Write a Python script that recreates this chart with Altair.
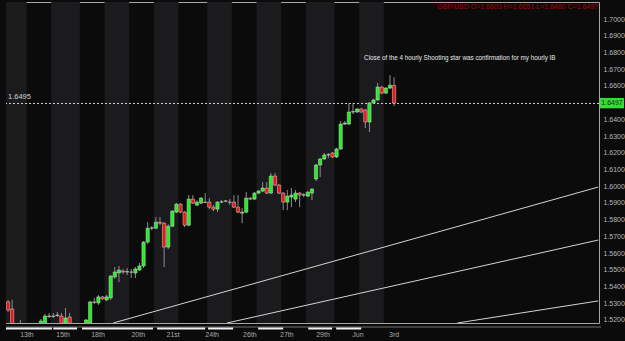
import altair as alt
import pandas as pd

# ---------------- data (4-hour GBP/USD candles, index = candle number) ----------------
idx = [0, 1, 3, 8, 9, 10, 11, 12, 13, 14, 15,
       19, 20, 21, 22, 23, 24, 25, 26, 27, 28, 29, 30, 31, 32, 33, 34, 35, 36, 37, 38,
       39, 40, 41, 42, 43, 44, 45, 46, 47, 48, 49, 50, 51, 52, 53, 54, 55, 56, 57, 58,
       59, 60, 61, 62, 63, 64, 65, 66, 67, 68, 69, 70, 71, 72, 73, 74, 75, 76, 77, 78,
       79, 80, 81, 82, 83, 84, 85, 86, 87, 88, 89, 90, 91, 92, 93, 94]
opens = [1.5308, 1.5266, 1.5170, 1.5176, 1.5176, 1.5221, 1.5224, 1.5227, 1.5224, 1.5180, 1.5218,
         1.5176, 1.5180, 1.5308, 1.5302, 1.5338, 1.5320, 1.5332, 1.5457, 1.5481, 1.5493, 1.5487, 1.5487, 1.5481, 1.5499, 1.5523, 1.5666, 1.5749, 1.5749, 1.5785, 1.5779,
         1.5636, 1.5761, 1.5845, 1.5893, 1.5845, 1.5767, 1.5923, 1.5887, 1.5899, 1.5905, 1.5905, 1.5875, 1.5863, 1.5905, 1.5911, 1.5905, 1.5905, 1.5875, 1.5839, 1.5845,
         1.5929, 1.5923, 1.5959, 1.5971, 1.5989, 1.5959, 1.6061, 1.6007, 1.5959, 1.5905, 1.5935, 1.5923, 1.5959, 1.5947, 1.5941, 1.5959, 1.6043, 1.6127, 1.6163, 1.6187,
         1.6199, 1.6175, 1.6223, 1.6372, 1.6372, 1.6444, 1.6444, 1.6462, 1.6456, 1.6384, 1.6498, 1.6516, 1.6593, 1.6557, 1.6587, 1.6603]
highs = [1.5320, 1.5320, 1.5200, 1.5206, 1.5236, 1.5242, 1.5242, 1.5248, 1.5242, 1.5272, 1.5242,
         1.5206, 1.5314, 1.5332, 1.5350, 1.5344, 1.5350, 1.5469, 1.5517, 1.5523, 1.5505, 1.5511, 1.5505, 1.5517, 1.5541, 1.5672, 1.5785, 1.5761, 1.5815, 1.5815, 1.5785,
         1.5773, 1.5857, 1.5899, 1.5899, 1.5851, 1.5947, 1.5947, 1.5917, 1.5935, 1.5959, 1.5929, 1.5887, 1.5911, 1.5917, 1.5917, 1.5923, 1.5947, 1.5947, 1.5869, 1.5965,
         1.5935, 1.5965, 1.5977, 1.6025, 1.6025, 1.6079, 1.6079, 1.6013, 1.5965, 1.5977, 1.5989, 1.5977, 1.5965, 1.5959, 1.5971, 1.5989, 1.6133, 1.6169, 1.6199, 1.6199,
         1.6205, 1.6229, 1.6390, 1.6390, 1.6498, 1.6498, 1.6468, 1.6468, 1.6462, 1.6504, 1.6522, 1.6617, 1.6599, 1.6593, 1.6665, 1.6651]
lows = [1.5248, 1.5140, 1.5122, 1.5164, 1.5164, 1.5212, 1.5212, 1.5218, 1.5170, 1.5170, 1.5170,
        1.5170, 1.5176, 1.5296, 1.5290, 1.5320, 1.5314, 1.5320, 1.5445, 1.5427, 1.5475, 1.5469, 1.5451, 1.5451, 1.5493, 1.5511, 1.5654, 1.5737, 1.5743, 1.5767, 1.5517,
        1.5624, 1.5755, 1.5839, 1.5839, 1.5755, 1.5761, 1.5893, 1.5881, 1.5893, 1.5899, 1.5863, 1.5851, 1.5845, 1.5899, 1.5905, 1.5887, 1.5869, 1.5839, 1.5779, 1.5839,
        1.5917, 1.5917, 1.5953, 1.5965, 1.5953, 1.5953, 1.6001, 1.5953, 1.5857, 1.5857, 1.5875, 1.5905, 1.5875, 1.5935, 1.5935, 1.5917, 1.6031, 1.6055, 1.6157, 1.6169,
        1.6169, 1.6169, 1.6217, 1.6366, 1.6366, 1.6432, 1.6438, 1.6438, 1.6348, 1.6324, 1.6492, 1.6510, 1.6551, 1.6551, 1.6581, 1.6480]
closes = [1.5260, 1.5164, 1.5152, 1.5194, 1.5224, 1.5224, 1.5221, 1.5230, 1.5180, 1.5212, 1.5180,
          1.5200, 1.5308, 1.5305, 1.5338, 1.5326, 1.5338, 1.5463, 1.5487, 1.5499, 1.5487, 1.5489, 1.5486, 1.5505, 1.5523, 1.5666, 1.5749, 1.5751, 1.5785, 1.5779, 1.5636,
          1.5761, 1.5851, 1.5893, 1.5845, 1.5767, 1.5923, 1.5899, 1.5905, 1.5929, 1.5903, 1.5875, 1.5863, 1.5905, 1.5907, 1.5912, 1.5904, 1.5875, 1.5845, 1.5845, 1.5929,
          1.5923, 1.5959, 1.5971, 1.5989, 1.5959, 1.6061, 1.6007, 1.5959, 1.5905, 1.5941, 1.5947, 1.5959, 1.5947, 1.5949, 1.5965, 1.5983, 1.6127, 1.6163, 1.6187, 1.6189,
          1.6175, 1.6223, 1.6372, 1.6378, 1.6444, 1.6446, 1.6462, 1.6444, 1.6384, 1.6498, 1.6516, 1.6593, 1.6557, 1.6587, 1.6605, 1.6497]

# lighter day bands (candle-index ranges)
band_start = [-0.5, 10.5, 23.5, 35.5, 48.5, 60.5, 72.5, 85.5]
band_end = [4.5, 17.5, 29.5, 41.5, 54.5, 66.5, 79.5, 91.5]

# date strip segments under the chart
strip_start = [-0.5, 11.0, 18.0, 36.3, 48.7, 60.9, 73.1, 79.9]
strip_end = [10.7, 16.8, 35.3, 48.0, 54.8, 67.0, 78.9, 86.0]

# x-axis labels
date_labels = ["13th", "15th", "18th", "20th", "21st", "24th", "26th", "27th", "29th", "Jun", "3rd"]
date_pos = [4.6, 13.4, 21.9, 31.7, 40.2, 49.7, 58.9, 67.9, 76.7, 85.2, 94.0]

# y-axis tick values (1.6500 is hidden behind the last-price box in the reference)
y_ticks = [1.52, 1.53, 1.54, 1.55, 1.56, 1.57, 1.58, 1.59, 1.60, 1.61,
           1.62, 1.63, 1.64, 1.66, 1.67, 1.68, 1.69, 1.70]

# trend lines (two points each)
tl_id = ["a", "a", "b", "b", "c", "c"]
tl_i = [25.6, 143.7, 53.3, 143.7, 109.4, 143.7]
tl_p = [1.5182, 1.5995, 1.5182, 1.5678, 1.5182, 1.5314]

level_price = 1.6495
last_price = 1.6497
note_text = "Close of the 4 hourly Shooting star was confirmation for my hourly IB"
note_i, note_p = 86.7, 1.6767
header_text = "GBP/USD O=1.6603 H=1.6651 L=1.6480 C=1.6497"

# ---------------- chart ----------------
W, H = 593, 321
FONT = "Liberation Sans"
xs = alt.Scale(domain=[-0.5, 143.9], nice=False, zero=False)
ys = alt.Scale(domain=[1.5182, 1.7102], nice=False, zero=False)
yax = alt.Axis(orient="right", values=y_ticks, format=".4f", labelColor="#b8b8b8",
               labelFontSize=7, labelFont=FONT, ticks=False, domain=False, grid=False,
               labelPadding=4, title=None)


def Y(field):
    return alt.Y(field, scale=ys, axis=yax)


candles = pd.DataFrame({"i": idx, "o": opens, "h": highs, "l": lows, "c": closes})
bands = pd.DataFrame({"s": band_start, "e": band_end})
strip = pd.DataFrame({"s": strip_start, "e": strip_end})
dates = pd.DataFrame({"lab": date_labels, "i": date_pos})
tlines = pd.DataFrame({"id": tl_id, "i": tl_i, "p": tl_p})

band_layer = alt.Chart(bands).mark_rect(color="#1b1b1e").encode(
    x=alt.X("s:Q", scale=xs, axis=None), x2="e:Q",
    y=alt.value(0), y2=alt.value(H))

trend_layer = alt.Chart(tlines).mark_line(color="#d4d4d4", strokeWidth=1, clip=True).encode(
    x=alt.X("i:Q", scale=xs, axis=None), y=Y("p:Q"), detail="id:N")

level_layer = alt.Chart(pd.DataFrame({"p": [level_price]})).mark_rule(
    color="#d0d0d0", strokeDash=[2, 2], strokeWidth=1).encode(y=Y("p:Q"))

wick_layer = alt.Chart(candles).mark_rule(color="#8e8e8e", strokeWidth=1, clip=True).encode(
    x=alt.X("i:Q", scale=xs, axis=None), y=Y("l:Q"), y2="h:Q")

body_layer = alt.Chart(candles).transform_calculate(
    x0="datum.i - 0.4", x1="datum.i + 0.4"
).mark_rect(stroke="#d8d8d8", strokeWidth=0.5, clip=True).encode(
    x=alt.X("x0:Q", scale=xs, axis=None), x2="x1:Q",
    y=Y("o:Q"), y2="c:Q",
    color=alt.condition("datum.c >= datum.o", alt.value("#22ee22"), alt.value("#ee1515")))

level_text = alt.Chart(pd.DataFrame({"p": [level_price], "t": ["1.6495"]})).mark_text(
    align="left", baseline="bottom", dx=2, dy=-2, fontSize=7.5, font=FONT, color="#d0d0d0").encode(
    x=alt.value(0), y=Y("p:Q"), text="t:N")

box_df = pd.DataFrame({"p": [last_price], "t": ["1.6497"]})
box_layer = alt.Chart(box_df).transform_calculate(
    hi="datum.p + 0.0031", lo="datum.p - 0.0031"
).mark_rect(color="#33dd33").encode(
    x=alt.value(W + 1), x2=alt.value(W + 25), y=Y("hi:Q"), y2="lo:Q")
box_text = alt.Chart(box_df).mark_text(
    align="center", baseline="middle", fontSize=7, font=FONT, color="#0a3a0a").encode(
    x=alt.value(W + 13), y=Y("p:Q"), text="t:N")

note_layer = alt.Chart(pd.DataFrame({"i": [note_i], "p": [note_p], "t": [note_text]})).mark_text(
    align="left", baseline="middle", fontSize=6.3, font=FONT, color="#e8e8e8").encode(
    x=alt.X("i:Q", scale=xs, axis=None), y=Y("p:Q"), text="t:N")

header_layer = alt.Chart(pd.DataFrame({"t": [header_text]})).mark_text(
    align="right", baseline="middle", fontSize=7, font=FONT, color="#b00000").encode(
    x=alt.value(W - 1), y=alt.value(5), text="t:N")

strip_line = alt.Chart(pd.DataFrame({"a": [0]})).mark_rule(color="#707070").encode(
    x=alt.value(0), x2=alt.value(W + 2), y=alt.value(H + 4))
strip_layer = alt.Chart(strip).mark_rect(color="#f0f0f0").encode(
    x=alt.X("s:Q", scale=xs, axis=None), x2="e:Q",
    y=alt.value(H + 4.5), y2=alt.value(H + 6.5))

date_layer = alt.Chart(dates).mark_text(
    align="center", baseline="middle", fontSize=7, font=FONT, color="#a8a8a8").encode(
    x=alt.X("i:Q", scale=xs, axis=None), y=alt.value(H + 11.5), text="lab:N")

chart = alt.layer(
    band_layer, trend_layer, level_layer, wick_layer, body_layer,
    level_text, box_layer, box_text, note_layer, header_layer,
    strip_line, strip_layer, date_layer
).properties(
    width=W, height=H,
    padding={"left": 6, "top": 2, "right": 26, "bottom": 18},
    autosize=alt.AutoSizeParams(type="none"),
    background="#0b0b0b"
).configure_view(stroke="#a8a8a8", strokeWidth=1)

chart.save("out.html", embed_options={"renderer": "svg", "actions": False})
